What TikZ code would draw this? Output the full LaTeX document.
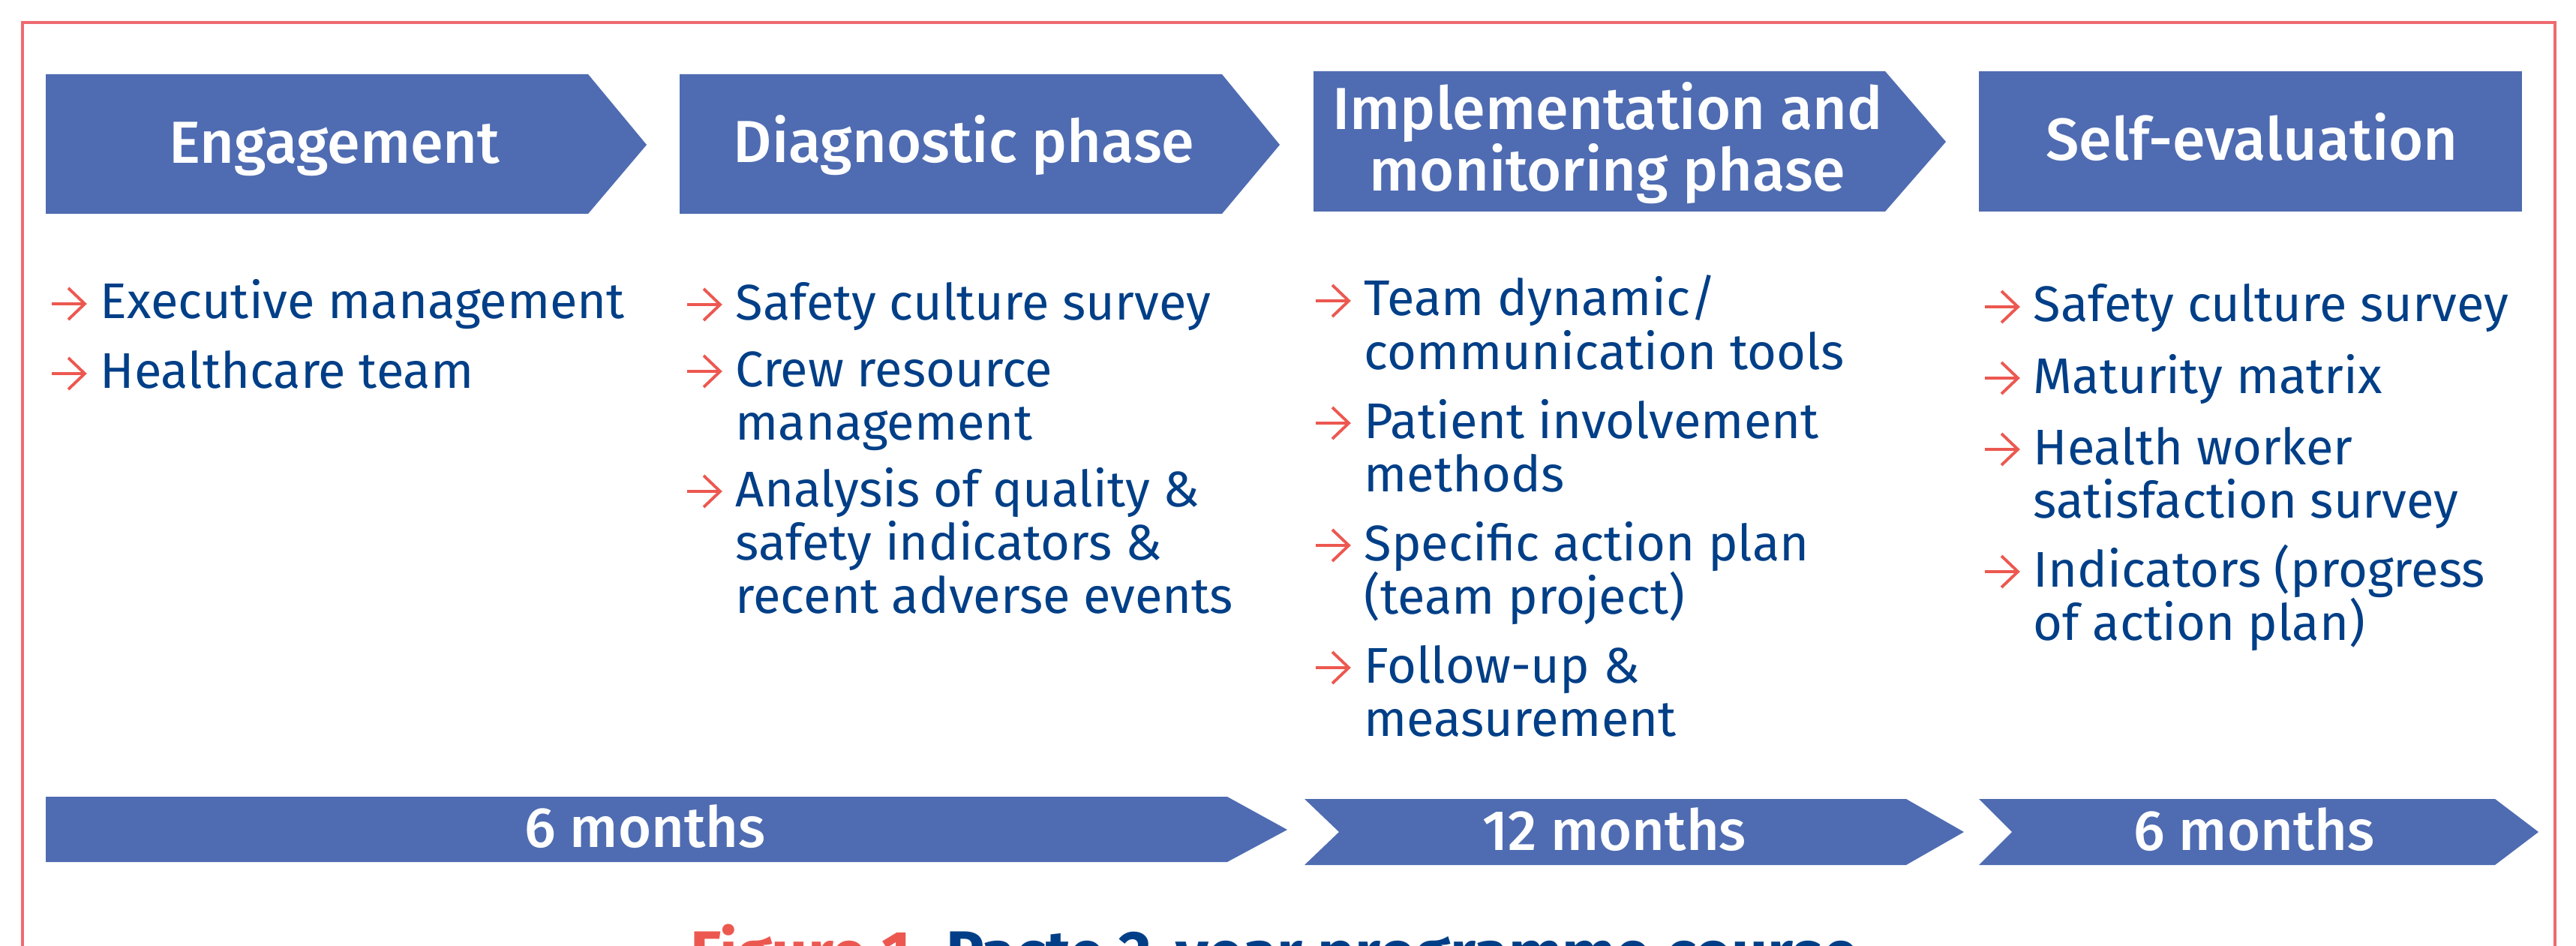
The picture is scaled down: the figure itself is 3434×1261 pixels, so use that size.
\documentclass[tikz,border=0pt]{standalone}
\usepackage{fontspec}
\setmainfont{Fira Sans}
\newfontfamily\hfont{Fira Sans Medium}
\usetikzlibrary{calc}
\definecolor{hdr}{RGB}{79,108,178}
\definecolor{dblue}{RGB}{0,63,135}
\definecolor{ared}{RGB}{236,88,80}
\definecolor{bord}{RGB}{238,106,112}
\newcommand{\itemtext}[1]{\parbox[t]{8cm}{\raggedright\fontsize{19}{20.2}\selectfont #1}}
\begin{document}
\begin{tikzpicture}[x=0.01cm,y=-0.01cm,
  phase/.style={fill=hdr, draw=none},
  htext/.style={text=white, font=\hfont\fontsize{22.5}{23.3}\selectfont, inner sep=0, anchor=base},
  ttext/.style={text=white, font=\hfont\fontsize{21.5}{23.3}\selectfont, inner sep=0, anchor=base},
  item/.style={text=dblue, inner sep=0, anchor=base west},
  bularrow/.pic={\draw[ared, line width=1.1pt] (-64,-20) -- (-20,-20) (-42,-41) -- (-20,-20) -- (-42,1);}
]
\useasboundingbox (0,0) rectangle (3434,1261);
\fill[white] (0,0) rectangle (3434,1261);
% frame
\draw[bord, line width=0.9pt] (30,1500) -- (30,30) -- (3406,30) -- (3406,1500);

% phase headers
\fill[phase] (61,99) -- (784,99) -- (862,193) -- (784,285) -- (61,285) -- cycle;
\fill[phase] (906,99) -- (1629,99) -- (1706,193) -- (1629,285) -- (906,285) -- cycle;
\fill[phase] (1751,95) -- (2513,95) -- (2594,189) -- (2513,282) -- (1751,282) -- cycle;
\fill[phase] (2638,95) rectangle (3362,282);

\node[htext] (h1) at (446,218) {Engagement};
\node[htext] (h2) at (1285,217) {Diagnostic phase};
\node[htext] (h3) at (2143,173) {\parbox[t]{9cm}{\centering\hfont\fontsize{22.5}{23.3}\selectfont Implementation and\\monitoring phase}};
\node[htext] (h4) at (3002,214) {Self-evaluation};

% items
\node[item] (c1a) at (133,425) {\itemtext{Executive management}};
\node[item] (c1b) at (133,518) {\itemtext{Healthcare team}};

\node[item] (c2a) at (980,426) {\itemtext{Safety culture survey}};
\node[item] (c2b) at (980,515) {\itemtext{Crew resource\\management}};
\node[item] (c2c) at (980,675) {\itemtext{Analysis of quality \&\\safety indicators \&\\recent adverse events}};

\node[item] (c3a) at (1818,421) {\itemtext{Team dynamic/\\communication tools}};
\node[item] (c3b) at (1818,584) {\itemtext{Patient involvement\\methods}};
\node[item] (c3c) at (1818,747) {\itemtext{Specific action plan\\(team project)}};
\node[item] (c3d) at (1818,910) {\itemtext{Follow-up \&\\measurement}};

\node[item] (c4a) at (2710,429) {\itemtext{Safety culture survey}};
\node[item] (c4b) at (2710,524) {\itemtext{Maturity matrix}};
\node[item] (c4c) at (2710,619) {\itemtext{Health worker\\satisfaction survey}};
\node[item] (c4d) at (2710,782) {\itemtext{Indicators (progress\\of action plan)}};

\foreach \n in {c1a,c1b,c2a,c2b,c2c,c3a,c3b,c3c,c3d,c4a,c4b,c4c,c4d}
  \pic at (\n.base west) {bularrow};

% timeline
\fill[phase] (61,1062) -- (1636,1062) -- (1716,1106) -- (1636,1149) -- (61,1149) -- cycle;
\fill[phase] (1739,1065) -- (2541,1065) -- (2618,1109) -- (2541,1153) -- (1739,1153) -- (1785,1109) -- cycle;
\fill[phase] (2638,1065) -- (3326,1065) -- (3384,1109) -- (3326,1153) -- (2638,1153) -- (2682,1109) -- cycle;

\node[ttext] (t1) at (860,1129) {6 months};
\node[ttext] (t2) at (2152,1133) {12 months};
\node[ttext] (t3) at (3005,1133) {6 months};

% caption (cut off at the bottom)
\node[inner sep=0, anchor=base west, font=\fontsize{24}{28}\selectfont\bfseries] (cap) at (920,1300)
  {\textcolor{ared}{Figure 1.} \textcolor{dblue}{Pacte 2-year programme course}};
\end{tikzpicture}
\end{document}
